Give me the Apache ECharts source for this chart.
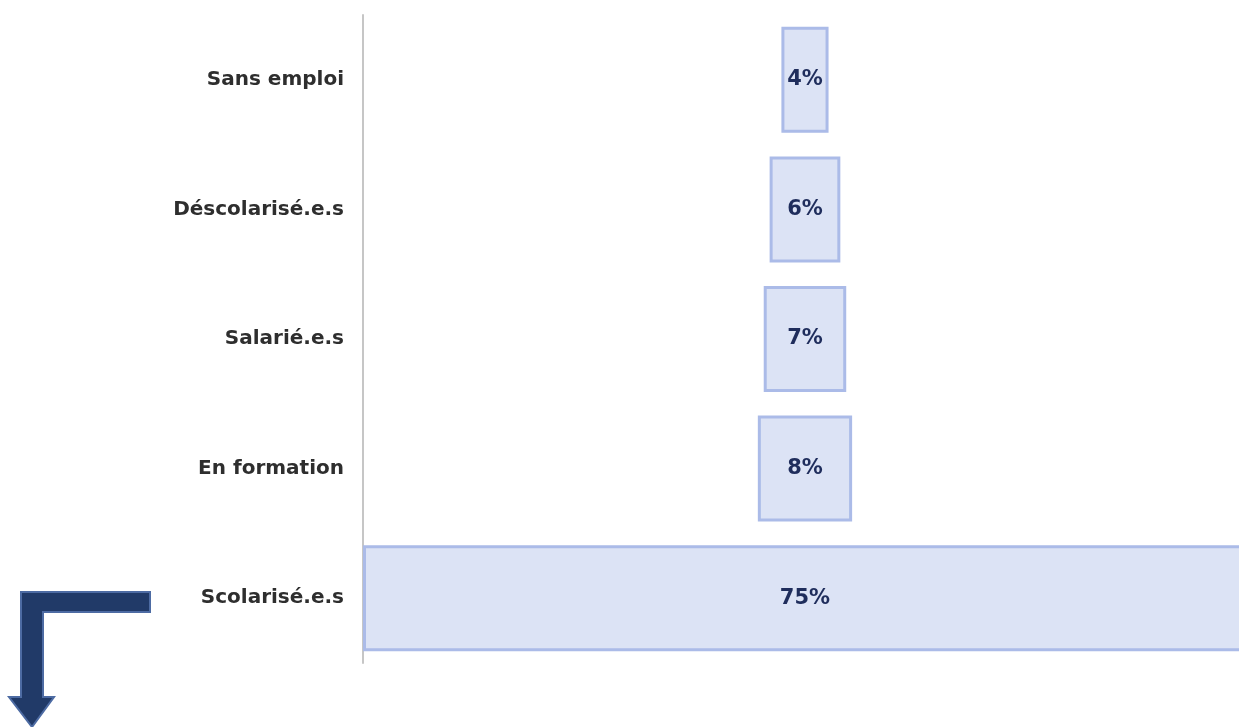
<!DOCTYPE html>
<html>
<head>
<meta charset="utf-8">
<script src="https://cdn.jsdelivr.net/npm/echarts@6/dist/echarts.min.js"></script>
<style>
  html, body { margin: 0; padding: 0; background: #fff; }
  #chart { width: 1239px; height: 727px; }
</style>
</head>
<body>
<div id="chart"></div>
<script>
// catégories (de bas en haut)
const categories = ["Scolarisé.e.s", "En formation", "Salarié.e.s", "Déscolarisé.e.s", "Sans emploi"];
const values = [75, 8, 7, 6, 4];

const maxVal = Math.max(...values);
// décalage invisible pour centrer chaque barre
const offsets = values.map(v => (maxVal - v) / 2);

const chart = echarts.init(document.getElementById("chart"));

const option = {
  animation: false,
  grid: { left: 363, right: 0, top: 15, bottom: 64, containLabel: false },
  xAxis: {
    type: "value",
    min: 0,
    max: maxVal * 0.991, // la grande barre déborde un peu à droite
    show: false,
  },
  yAxis: {
    type: "category",
    data: categories,
    axisLine: { show: true, lineStyle: { color: "#c6c6c6", width: 2 } },
    axisTick: { show: false },
    axisLabel: {
      margin: 19,
      color: "#2e2e2e",
      fontFamily: "DejaVu Sans",
      fontWeight: "bold",
      fontSize: 20,
      padding: [6, 0, 0, 0],
    },
  },
  series: [
    {
      type: "bar",
      stack: "a",
      data: offsets,
      itemStyle: { color: "transparent" },
      barWidth: 106,
      clip: false,
      silent: true,
    },
    {
      type: "bar",
      stack: "a",
      data: values,
      barWidth: 106,
      clip: false,
      itemStyle: {
        color: "#dce3f5",
        borderColor: "#abbbe8",
        borderWidth: 3,
      },
      label: {
        show: true,
        position: "inside",
        formatter: "{c}%",
        color: "#1f2d5c",
        fontFamily: "DejaVu Sans",
        fontWeight: "bold",
        fontSize: 21,
      },
    },
  ],
  graphic: [
    {
      // flèche décorative en bas à gauche
      type: "polygon",
      shape: {
        points: [
          [150, 592], [150, 612], [43, 612], [43, 697], [54, 697],
          [32, 727], [9, 697], [21, 697], [21, 592],
        ],
      },
      style: { fill: "#213a68", stroke: "#4d6ba3", lineWidth: 2 },
    },
  ],
};

chart.setOption(option);
</script>
</body>
</html>
